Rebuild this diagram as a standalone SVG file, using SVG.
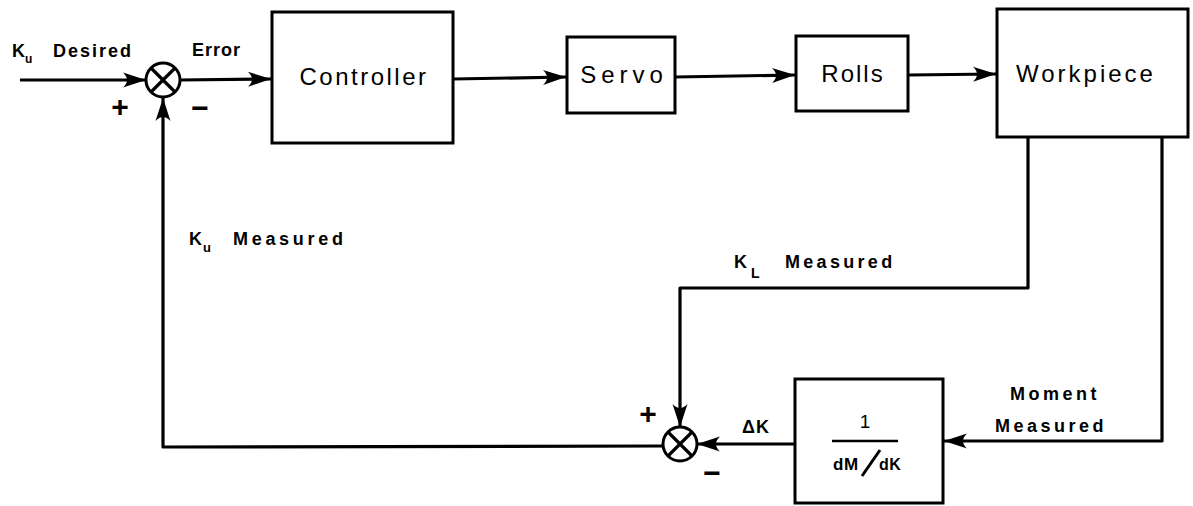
<svg xmlns="http://www.w3.org/2000/svg" width="1193" height="506" viewBox="0 0 1193 506">
<style>
.box{fill:#fff;stroke:#000;stroke-width:3}
.ln{fill:none;stroke:#000;stroke-width:3.2;stroke-linejoin:round}
.sum{fill:#fff;stroke:#000;stroke-width:3}
.nt{font-family:"Liberation Sans",Arial,sans-serif;font-size:24px;fill:#000;text-anchor:middle}
.lb{font-family:"Liberation Sans",Arial,sans-serif;font-size:18px;font-weight:bold;fill:#000;letter-spacing:3.5px}
.sg{font-family:"Liberation Sans",Arial,sans-serif;font-size:30px;font-weight:bold;fill:#000;text-anchor:middle}
</style>
<defs>
<marker id="ah" markerUnits="userSpaceOnUse" markerWidth="26" markerHeight="18" refX="23" refY="9" orient="auto" overflow="visible">
<path d="M0,1.5 Q8,9 0,16.5 L23,9 Z" fill="#000"/>
</marker>
</defs>
<g id="connectors">
<line class="ln" x1="20" y1="80" x2="146" y2="80" marker-end="url(#ah)"/>
<line class="ln" x1="180" y1="80" x2="271" y2="79" marker-end="url(#ah)"/>
<line class="ln" x1="453" y1="79" x2="566" y2="77" marker-end="url(#ah)"/>
<line class="ln" x1="675" y1="77" x2="795" y2="75" marker-end="url(#ah)"/>
<line class="ln" x1="908" y1="75" x2="996" y2="74" marker-end="url(#ah)"/>
<polyline class="ln" points="1028,137 1028,288 680,288 680,427" marker-end="url(#ah)"/>
<polyline class="ln" points="1162,137 1162,441 944,441" marker-end="url(#ah)"/>
<line class="ln" x1="795" y1="444" x2="697" y2="444" marker-end="url(#ah)"/>
<polyline class="ln" points="662,446 163,447 163,98" marker-end="url(#ah)"/>
</g>
<g id="sum1">
<circle class="sum" cx="163" cy="80" r="17"/>
<line class="ln" x1="151" y1="68" x2="175" y2="92"/>
<line class="ln" x1="175" y1="68" x2="151" y2="92"/>
</g>
<g id="sum2">
<circle class="sum" cx="680" cy="444" r="17"/>
<line class="ln" x1="668" y1="432" x2="692" y2="456"/>
<line class="ln" x1="692" y1="432" x2="668" y2="456"/>
</g>
<g id="controller">
<rect class="box" x="272" y="12" width="181" height="131"/>
<text class="nt" x="364" y="85" style="letter-spacing:2.5px">Controller</text>
</g>
<g id="servo">
<rect class="box" x="567" y="37" width="108" height="76"/>
<text class="nt" x="624" y="83" style="letter-spacing:5px">Servo</text>
</g>
<g id="rolls">
<rect class="box" x="796" y="36" width="112" height="75"/>
<text class="nt" x="853" y="82" style="letter-spacing:2px">Rolls</text>
</g>
<g id="workpiece">
<rect class="box" x="997" y="9" width="191" height="128"/>
<text class="nt" x="1086" y="82" style="letter-spacing:3px">Workpiece</text>
</g>
<g id="inverse">
<rect class="box" x="795" y="379" width="148" height="124"/>
<text class="nt" x="865" y="428" style="font-size:19px">1</text>
<line x1="832" y1="441" x2="898" y2="441" stroke="#000" stroke-width="2.5"/>
<text class="lb" x="833" y="470" style="font-size:17px;letter-spacing:0.5px">dM</text>
<line x1="862" y1="476" x2="880" y2="450" stroke="#000" stroke-width="3"/>
<text class="lb" x="879" y="470" style="font-size:16px;letter-spacing:0.5px">dK</text>
</g>
<g id="labels">
<text class="lb" x="12" y="57" style="letter-spacing:0">K</text>
<text class="lb" x="25" y="63" style="font-size:12px;letter-spacing:0">u</text>
<text class="lb" x="53" y="57" style="letter-spacing:2px">Desired</text>
<text class="lb" x="192" y="56" style="letter-spacing:1px">Error</text>
<text class="sg" x="120" y="117">+</text>
<text class="sg" x="200" y="118">−</text>
<text class="lb" x="189" y="245" style="letter-spacing:0">K</text>
<text class="lb" x="203" y="252" style="font-size:13px;letter-spacing:0">u</text>
<text class="lb" x="233" y="245" style="letter-spacing:3.7px">Measured</text>
<text class="lb" x="734" y="268" style="letter-spacing:0">K</text>
<text class="lb" x="751" y="278" style="font-size:14px;letter-spacing:0">L</text>
<text class="lb" x="785" y="268" style="letter-spacing:3.3px">Measured</text>
<text class="lb" x="742" y="433" style="letter-spacing:1px">ΔK</text>
<text class="sg" x="648" y="424">+</text>
<text class="sg" x="712" y="483">−</text>
<text class="lb" x="1010" y="400" style="letter-spacing:3.5px">Moment</text>
<text class="lb" x="995" y="432" style="letter-spacing:3.5px">Measured</text>
</g>
</svg>
